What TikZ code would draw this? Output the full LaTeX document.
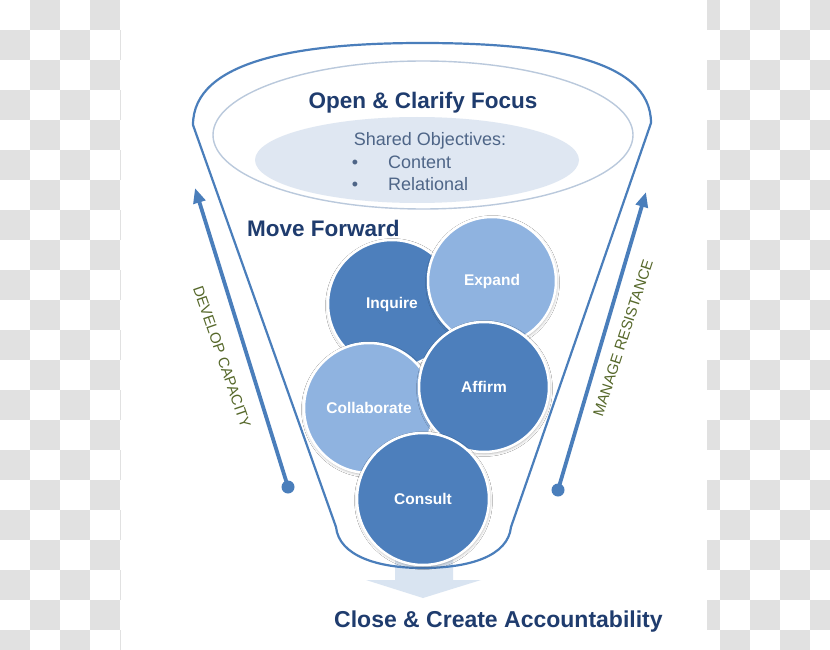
\documentclass[tikz,border=0pt]{standalone}
\usepackage{fontspec}
\setmainfont{Liberation Sans}
\usetikzlibrary{arrows.meta,shadows.blur}
\definecolor{checkgray}{HTML}{E1E1E1}
\definecolor{funblue}{HTML}{4A7EBB}
\definecolor{balldark}{HTML}{4D7FBC}
\definecolor{balllight}{HTML}{8FB3E0}
\definecolor{navy}{HTML}{1F3C6E}
\definecolor{objtext}{HTML}{4E6587}
\definecolor{labelolive}{HTML}{56682A}
\definecolor{innerline}{HTML}{BAC9DC}
\definecolor{innerfill}{HTML}{DFE7F2}
\definecolor{downfill}{HTML}{D9E4F1}
\begin{document}
\begin{tikzpicture}[x=1pt,y=-1pt,
  heading/.style={font=\fontsize{22.5}{27}\selectfont\bfseries, text=navy, inner sep=0pt},
  objline/.style={font=\fontsize{18}{22}\selectfont, text=objtext, inner sep=0pt},
  ball/.style={circle, inner sep=0pt, minimum size=#1, draw=white, line width=2.5pt,
    text=white, font=\fontsize{15.5}{18}\selectfont\bfseries,
    blur shadow={shadow xshift=0.5pt, shadow yshift=-1.5pt, shadow opacity=35, shadow blur radius=3pt}},
  sidearrow/.style={draw=funblue, line width=3.8pt, -{Triangle[length=15pt,width=12pt]}},
  sidelabel/.style={font=\fontsize{15}{18}\selectfont, text=labelolive, inner sep=0pt},
  funnel/.style={draw=funblue, line width=2.2pt, line join=round}
]
\useasboundingbox (0,0) rectangle (830,650);
% checkerboard background
\fill[white] (0,0) rectangle (830,650);
\begin{scope}
  \clip (0,0) rectangle (830,650);
  \foreach \i in {0,...,27}{
    \foreach \j in {0,...,21}{
      \ifodd\numexpr\i+\j\relax
        \fill[checkgray] (30*\i,30*\j) rectangle ++(30,30);
      \fi
    }
  }
\end{scope}
\fill[white] (121,0) rectangle (707,650);

% downward block arrow
\fill[downfill] (395,552) -- (453,552) -- (453,580) -- (481,580) -- (423,598) -- (366,580) -- (395,580) -- cycle;

% funnel
\coordinate (L) at (193,125);
\coordinate (T) at (422,43);
\coordinate (R) at (651,123);
\coordinate (BR) at (511,527);
\coordinate (B) at (422,568);
\coordinate (BL) at (336,527);
\draw[funnel] (L) .. controls (193,60) and (300,43) .. (T)
  .. controls (544,43) and (651,58) .. (R) -- (BR)
  .. controls (508,556) and (470,568) .. (B)
  .. controls (378,568) and (339,556) .. (BL) -- cycle;

% top ellipses
\draw[innerline, line width=1.4pt] (423,135) ellipse [x radius=210, y radius=74];
\fill[innerfill] (417,160) ellipse [x radius=162, y radius=43];

\node[heading, anchor=base] (open) at (423,109) {Open \& Clarify Focus};
\node[objline, anchor=base] (shared) at (430,146) {Shared Objectives:};
\node[objline, anchor=base] (b1) at (355,168) {\textbullet};
\node[objline, anchor=base west] (content) at (388,168) {Content};
\node[objline, anchor=base] (b2) at (355,190) {\textbullet};
\node[objline, anchor=base west] (relational) at (388,190) {Relational};

\node[heading, anchor=base west] (move) at (247,236) {Move Forward};

% side arrows
\coordinate (ldot) at (288,487);
\coordinate (ltip) at (195,188);
\coordinate (rdot) at (558,490);
\coordinate (rtip) at (646,192);
\draw[sidearrow] (ldot) -- (ltip);
\fill[funblue] (ldot) circle (6.5pt);
\draw[sidearrow] (rdot) -- (rtip);
\fill[funblue] (rdot) circle (6.5pt);
\node[sidelabel, rotate=-71] (develop) at (222,357) {DEVELOP CAPACITY};
\node[sidelabel, rotate=72] (manage) at (623,338) {MANAGE RESISTANCE};

% circles
\node[ball=128pt, fill=balldark] (inquire) at (392,304) {Inquire};
\node[ball=128pt, fill=balllight] (expand) at (492,281) {Expand};
\node[ball=130pt, fill=balllight] (collab) at (369,408) {Collaborate};
\node[ball=130pt, fill=balldark] (affirm) at (484,387) {Affirm};
\node[ball=132pt, fill=balldark] (consult) at (423,499) {Consult};

\node[heading, font=\fontsize{23}{27}\selectfont\bfseries, anchor=base west] (close) at (334,627) {Close \& Create Accountability};
\end{tikzpicture}
\end{document}
